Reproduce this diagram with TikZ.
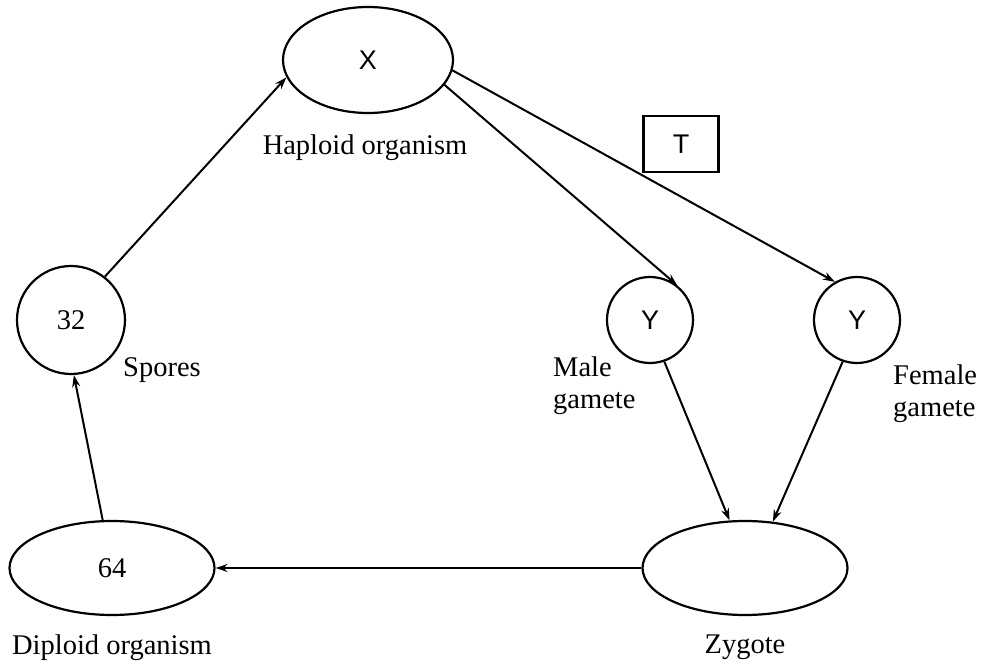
\documentclass[tikz,border=0pt]{standalone}
\usepackage{fontspec}
\setmainfont{Liberation Serif}
\newfontfamily\sansf{Liberation Sans}
\usetikzlibrary{shapes.geometric,arrows.meta}
\tikzset{
  every node/.style={font=\fontsize{28.5}{32}\selectfont},
  oval/.style={draw, ellipse, line width=2.2pt, inner sep=0pt},
  ring/.style={draw, circle, line width=2.2pt, inner sep=0pt},
  sym/.style={font=\fontsize{27}{32}\selectfont\sansf},
  conn/.style={line width=2pt, -{Stealth[length=12pt,width=8pt]}},
  lbl/.style={inner sep=0pt}
}
\begin{document}
\begin{tikzpicture}[x=1pt,y=-1pt]
\useasboundingbox (0,0) rectangle (988,666);
% nodes
\node[oval, minimum width=170pt, minimum height=106pt] (X) at (368,60) {};
\node[sym] at (X.center) {X};
\node[ring, minimum size=108pt] (S) at (71,320) {32};
\node[ring, minimum size=86pt] (M) at (650,320) {};
\node[sym] at (M.center) {Y};
\node[ring, minimum size=86pt] (F) at (857,320) {};
\node[sym] at (F.center) {Y};
\node[oval, minimum width=205pt, minimum height=94pt] (Z) at (745,568) {};
\node[oval, minimum width=205pt, minimum height=94pt] (D) at (112,568) {64};
\node[draw, line width=2.2pt, minimum width=75pt, minimum height=56pt, inner sep=0pt] (T) at (681,144) {};
\node[sym] at (T.center) {T};
% labels
\node[lbl] (lh) at (365,148) {Haploid organism};
\node[lbl] (ls) at (162,370) {Spores};
\node[lbl, anchor=west, align=left] (lm) at (553,386) {Male\\gamete};
\node[lbl, anchor=west, align=left] (lf) at (893,394) {Female\\gamete};
\node[lbl] (lz) at (745,647) {Zygote};
\node[lbl] (ld) at (112,648) {Diploid organism};
% connectors
\draw[conn] (D.101) -- (S.273);
\draw[conn] (S.52) -- (X.192);
\draw[conn] (X.342) -- (M.52);
\draw[conn] (X.353) -- (F.120);
\draw[conn] (M.289) -- (Z.108);
\draw[conn] (F.251) -- (Z.59);
\draw[conn] (Z.west) -- (D.east);
\end{tikzpicture}
\end{document}
